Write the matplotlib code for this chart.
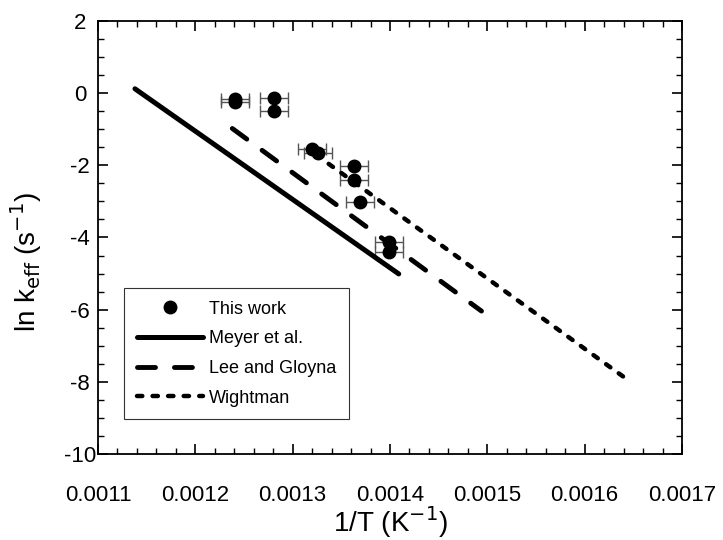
import numpy as np
import matplotlib.pyplot as plt
from matplotlib.ticker import MultipleLocator

plt.rcParams['font.family'] = ['Liberation Sans', 'DejaVu Sans']
plt.rcParams['axes.unicode_minus'] = False

# This work (measured points)
inv_T = [0.001241, 0.001241, 0.001281, 0.001281, 0.001320, 0.001326,
         0.001363, 0.001363, 0.001369, 0.001399, 0.001399]
ln_k = [-0.17, -0.25, -0.14, -0.49, -1.55, -1.65,
        -2.01, -2.41, -3.02, -4.12, -4.39]
x_err = [0.0000145] * len(inv_T)

# literature correlations (end points)
meyer_x = [0.001138, 0.001409]
meyer_y = [0.12, -5.01]
lee_x = [0.001238, 0.001494]
lee_y = [-0.98, -6.04]
wight_x = [0.001337, 0.001646]
wight_y = [-1.96, -7.98]

fig = plt.figure(figsize=(7.23, 5.4), dpi=100)
ax = fig.add_axes([0.1355, 0.1593, 0.8078, 0.8019])

ax.errorbar(inv_T, ln_k, xerr=x_err, fmt='none', ecolor='#555555',
            elinewidth=1, capsize=4, capthick=1, zorder=2)
ax.plot(inv_T, ln_k, 'o', color='black', markersize=9, label='This work', zorder=3)

ax.plot(meyer_x, meyer_y, '-', color='black', lw=3.6, solid_capstyle='round',
        label='Meyer et al.')
ax.plot(lee_x, lee_y, color='black', lw=3.5, dashes=(3.7, 3.9),
        dash_capstyle='round', label='Lee and Gloyna')
ax.plot(wight_x, wight_y, color='black', lw=3.2, dashes=(1.2, 2.3),
        dash_capstyle='round', label='Wightman')

ax.set_xlim(0.0011, 0.0017)
ax.set_ylim(-10, 2)
ax.xaxis.set_major_locator(MultipleLocator(0.0001))
ax.xaxis.set_minor_locator(MultipleLocator(0.00002))
ax.yaxis.set_major_locator(MultipleLocator(2))
ax.yaxis.set_minor_locator(MultipleLocator(0.5))
ax.set_xticks(ax.get_xticks())
ax.set_xticklabels(['%.4f' % v for v in ax.get_xticks()])
ax.set_xlim(0.0011, 0.0017)
ax.tick_params(which='both', direction='in', top=True, right=True, labelsize=16)
ax.tick_params(axis='x', pad=22)
ax.tick_params(axis='y', pad=13)
for lab in ax.get_yticklabels():
    lab.set_horizontalalignment('center')
ax.tick_params(which='major', length=7.5, width=1.2)
ax.tick_params(which='minor', length=4.5, width=1)
for s in ax.spines.values():
    s.set_linewidth(1.3)

fig.text(390 / 723, 1 - 522 / 540, '1/T (K$^{-1}$)', fontsize=20,
         ha='center', va='center')
fig.text(26 / 723, 1 - 262 / 540, 'ln k$_{\\mathrm{eff}}$ (s$^{-1}$)', fontsize=20,
         rotation=90, ha='center', va='center')

leg = ax.legend(loc='upper left', bbox_to_anchor=(0.0445, 0.383), borderaxespad=0,
                fontsize=13, handlelength=3.7, handletextpad=0.3, labelspacing=0.7,
                borderpad=0.7, fancybox=False, framealpha=1, edgecolor='#333333',
                numpoints=1)
leg.get_frame().set_linewidth(0.8)

fig.savefig('out.png', dpi=100)
